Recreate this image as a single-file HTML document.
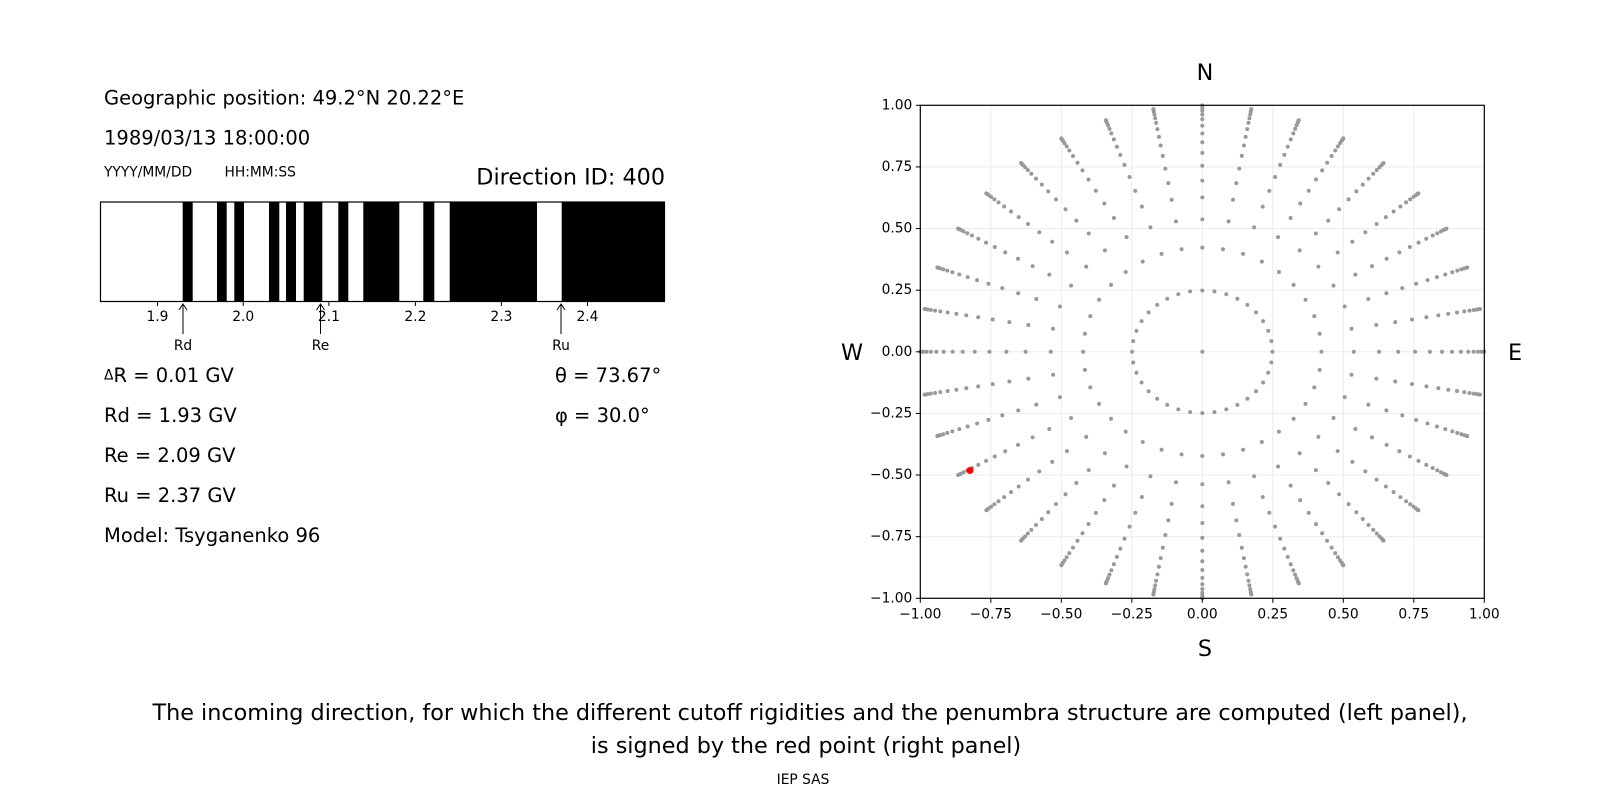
<!DOCTYPE html>
<html><head><meta charset="utf-8"><style>
html,body{margin:0;padding:0;background:#fff;}
svg{display:block;font-family:"DejaVu Sans","Liberation Sans",sans-serif;}
</style></head><body>
<svg id="s" width="1600" height="800" viewBox="0 0 1600 800" xmlns="http://www.w3.org/2000/svg">
<rect width="1600" height="800" fill="#fff"/>
<g font-size="19.5" dominant-baseline="central" fill="#000">
<text x="104" y="98">Geographic position: 49.2°N 20.22°E</text>
<text x="104" y="138">1989/03/13 18:00:00</text>
<text x="104" y="172.5" font-size="13.8">YYYY/MM/DD</text>
<text x="224.5" y="172.5" font-size="13.8">HH:MM:SS</text>
<text x="665" y="177.5" font-size="22.3" text-anchor="end">Direction ID: 400</text>
<text x="104" y="375.5"><tspan font-size="13.8">Δ</tspan>R = 0.01 GV</text>
<text x="104" y="415.5">Rd = 1.93 GV</text>
<text x="104" y="455.5">Re = 2.09 GV</text>
<text x="104" y="495.5">Ru = 2.37 GV</text>
<text x="104" y="535.5">Model: Tsyganenko 96</text>
<text x="555" y="375.5">θ = 73.67°</text>
<text x="555" y="415.5">φ = 30.0°</text>
</g>
<!-- bar -->
<rect x="100.5" y="202" width="564" height="99.5" fill="#fff" stroke="#000" stroke-width="1.2"/>
<g fill="#000">
<rect x="182.7" y="202" width="10" height="99.5"/>
<rect x="217" y="202" width="9.7" height="99.5"/>
<rect x="234.3" y="202" width="9.7" height="99.5"/>
<rect x="269" y="202" width="10.3" height="99.5"/>
<rect x="286" y="202" width="10" height="99.5"/>
<rect x="303.7" y="202" width="18.6" height="99.5"/>
<rect x="338.3" y="202" width="10" height="99.5"/>
<rect x="363.3" y="202" width="36" height="99.5"/>
<rect x="423.3" y="202" width="11" height="99.5"/>
<rect x="449.7" y="202" width="87.3" height="99.5"/>
<rect x="561.7" y="202" width="103.3" height="99.5"/>
</g>
<g stroke="#000" stroke-width="1">
<line x1="157.5" y1="301.5" x2="157.5" y2="306"/>
<line x1="243.2" y1="301.5" x2="243.2" y2="306"/>
<line x1="328.9" y1="301.5" x2="328.9" y2="306"/>
<line x1="415.4" y1="301.5" x2="415.4" y2="306"/>
<line x1="501.4" y1="301.5" x2="501.4" y2="306"/>
<line x1="587.5" y1="301.5" x2="587.5" y2="306"/>
<line x1="183" y1="304" x2="183" y2="334"/>
<line x1="320.5" y1="304" x2="320.5" y2="334"/>
<line x1="561" y1="304" x2="561" y2="334"/>
<path d="M179 310 L183 304 L187 310 M316.5 310 L320.5 304 L324.5 310 M557 310 L561 304 L565 310" fill="none"/>
</g>
<g font-size="13.8" text-anchor="middle" dominant-baseline="central">
<text x="157.5" y="317">1.9</text><text x="243.2" y="317">2.0</text><text x="328.9" y="317">2.1</text>
<text x="415.4" y="317">2.2</text><text x="501.4" y="317">2.3</text><text x="587.5" y="317">2.4</text>
<text x="183" y="346">Rd</text><text x="320.5" y="346">Re</text><text x="561" y="346">Ru</text>
</g>
<!-- right plot -->
<g id="grid" stroke="#ebebeb" stroke-width="1"></g>
<g id="dots" fill="#999"></g>
<circle cx="970" cy="470.5" r="3.5" fill="#f00"/>
<rect x="920.3" y="105.3" width="564" height="493" fill="none" stroke="#000" stroke-width="1.2"/>
<g id="ticks" stroke="#000" stroke-width="1"></g>
<g id="tl" font-size="13.8" dominant-baseline="central"></g>
<g font-size="22.3" text-anchor="middle" dominant-baseline="central">
<text x="1205" y="73">N</text><text x="1205" y="649">S</text>
<text x="852" y="353">W</text><text x="1515" y="353">E</text>
<text x="810" y="713">The incoming direction, for which the different cutoff rigidities and the penumbra structure are computed (left panel),</text>
<text x="806" y="746">is signed by the red point (right panel)</text>
<text x="803" y="780" font-size="13.8">IEP SAS</text>
</g>
</svg>
<script>
var NS="http://www.w3.org/2000/svg";
var L=920.3,T=105.3,W=564,H=493,cx=L+W/2,cy=T+H/2;
function el(p,n,a){var e=document.createElementNS(NS,n);for(var k in a)e.setAttribute(k,a[k]);document.getElementById(p).appendChild(e);return e;}
var labs=["−1.00","−0.75","−0.50","−0.25","0.00","0.25","0.50","0.75","1.00"];
for(var i=0;i<9;i++){
 var x=L+W*i/8,y=T+H*i/8;
 if(i>0&&i<8){el("grid","line",{x1:x,y1:T,x2:x,y2:T+H});el("grid","line",{x1:L,y1:y,x2:L+W,y2:y});}
 el("ticks","line",{x1:x,y1:T+H,x2:x,y2:T+H+4.5});
 el("ticks","line",{x1:L-4.5,y1:y,x2:L,y2:y});
 var t=el("tl","text",{x:x,y:T+H+16,"text-anchor":"middle"});t.textContent=labs[i];
 var t2=el("tl","text",{x:L-8,y:T+H-H*i/8,"text-anchor":"end"});t2.textContent=labs[i];
}
var th=[14.4,25,32.5,38.8,44,49,53.8,58.2,62.3,66.5,70.6,74.2,77.8,81.5,85.2,89];
el("dots","circle",{cx:cx,cy:cy,r:2});
for(var j=0;j<th.length;j++){var r=Math.sin(th[j]*Math.PI/180);
 for(var k=0;k<36;k++){var p=k*10*Math.PI/180;
  el("dots","circle",{cx:cx+r*Math.cos(p)*W/2,cy:cy-r*Math.sin(p)*H/2,r:2});}}
</script>
</body></html>
